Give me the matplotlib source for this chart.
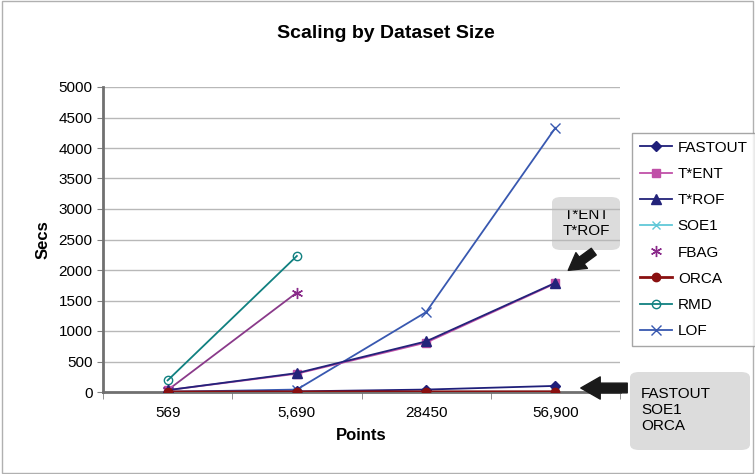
import numpy as np
import matplotlib.pyplot as plt
from matplotlib.patches import FancyArrowPatch, FancyBboxPatch

plt.rcParams['font.family'] = ['Liberation Sans', 'DejaVu Sans']

# data
categories = ['569', '5,690', '28450', '56,900']
fastout = [5, 10, 40, 100]
tent = [30, 300, 810, 1780]
trof = [30, 310, 830, 1790]
soe1 = [1, 2, 3, 5]
fbag = [30, 1630]
orca = [1, 2, 3, 4]
rmd = [190, 2230]
lof = [2, 40, 1310, 4330]

W, H = 755, 474
fig = plt.figure(figsize=(W / 100, H / 100), dpi=100)
fig.patches.append(plt.Rectangle((0.002, 0.002), 0.996, 0.996, transform=fig.transFigure,
                                 fill=False, edgecolor='#b0b0b0', lw=1))

ax = fig.add_axes([103 / W, 1 - 392 / H, (620 - 103) / W, (392 - 87) / H])
ax.patch.set_alpha(0)
x = np.arange(len(categories))

ax.plot(x, fastout, color='#1f1f7a', marker='D', ms=5, lw=1.3, label='FASTOUT', zorder=5)
ax.plot(x, tent, color='#c050a8', marker='s', ms=6, lw=1.3, label='T*ENT', zorder=4)
ax.plot(x, trof, color='#23237a', marker='^', ms=7, lw=1.3, label='T*ROF', zorder=5)
ax.plot(x, soe1, color='#60c8d8', marker='x', ms=6, lw=1.3, label='SOE1', zorder=3)
ax.plot(x[:2], fbag, color='#8a3a8a', lw=1.3, zorder=3)
ax.plot(x[:2], fbag, color='#8a2a8a', marker=(6, 2, 0), ms=8, lw=0, label='FBAG', zorder=4)
ax.plot(x, orca, color='#8a1010', marker='o', ms=6, lw=2, label='ORCA', zorder=6)
ax.plot(x[:2], rmd, color='#108080', marker='o', ms=6, mfc='none', lw=1.3, label='RMD', zorder=3)
ax.plot(x, lof, color='#3858b0', marker='x', ms=7, lw=1.3, label='LOF', zorder=3)

ax.set_xlim(-0.5, 3.5)
ax.set_ylim(0, 5000)
ax.set_yticks(np.arange(0, 5001, 500))
ax.set_xticks(x)
ax.set_xticklabels(categories)
ax.set_xticks(np.arange(-0.5, 3.6, 1), minor=True)
ax.tick_params(axis='x', which='major', length=0, pad=10, labelsize=11)
ax.tick_params(axis='x', which='minor', length=5, direction='out', color='#808080')
ax.tick_params(axis='y', length=4, direction='out', color='#808080', labelsize=11)
ax.yaxis.grid(True, color='#b8b8b8', lw=1)
ax.set_axisbelow(True)
for s in ['top', 'right']:
    ax.spines[s].set_visible(False)
ax.spines['left'].set_color('#707070')
ax.spines['left'].set_linewidth(2)
ax.spines['bottom'].set_color('#707070')
ax.spines['bottom'].set_linewidth(2)

ax.set_xlabel('Points', fontsize=12, fontweight='bold', labelpad=6)
ax.set_ylabel('Secs', fontsize=12, fontweight='bold', labelpad=6)
fig.text(386 / W, 1 - 33 / H, 'Scaling by Dataset Size', ha='center', va='center',
         fontsize=14, fontweight='bold')

leg = fig.legend(loc='upper left', bbox_to_anchor=(632 / W, 1 - 133 / H), frameon=True,
                 fontsize=11, handlelength=2.1, handletextpad=0.4, labelspacing=0.8,
                 borderpad=0.5, borderaxespad=0, fancybox=False, edgecolor='#909090')
leg.get_frame().set_linewidth(1)

# call-out boxes (drawn under the axes so the gridlines cross them)
def callout(x0, y0, x1, y1):
    fig.patches.append(FancyBboxPatch((x0 / W, 1 - y1 / H), (x1 - x0) / W, (y1 - y0) / H,
                                      boxstyle='round,pad=0,rounding_size=0.012',
                                      transform=fig.transFigure, fc='#dcdcdc', ec='none',
                                      zorder=-2))

callout(552, 197, 620, 250)
fig.text(586 / W, 1 - 223 / H, 'T*ENT\nT*ROF', ha='center', va='center', fontsize=11,
         linespacing=1.15, zorder=-1)
callout(630, 372, 750, 450)
fig.text(641 / W, 1 - 410 / H, 'FASTOUT\nSOE1\nORCA', ha='left', va='center', fontsize=11,
         linespacing=1.2)

fig.add_artist(FancyArrowPatch(
    (596 / W, 1 - 250 / H), (566 / W, 1 - 272 / H), transform=fig.transFigure,
    arrowstyle='simple,head_width=14,head_length=12,tail_width=6', color='#1a1a1a', mutation_scale=1))
fig.add_artist(FancyArrowPatch(
    (630 / W, 1 - 388 / H), (578 / W, 1 - 388 / H), transform=fig.transFigure,
    arrowstyle='simple,head_width=16,head_length=14,tail_width=7', color='#1a1a1a', mutation_scale=1))

fig.savefig('out.png', dpi=100)
